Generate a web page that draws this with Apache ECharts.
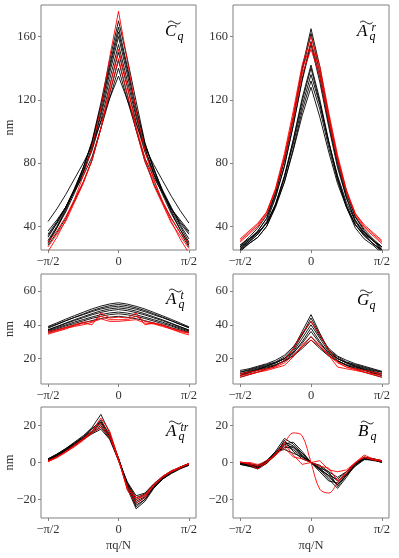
<!DOCTYPE html>
<html>
<head>
<meta charset="utf-8">
<script src="https://cdn.jsdelivr.net/npm/echarts@6/dist/echarts.min.js"></script>
<style>
  html, body { margin: 0; padding: 0; background: #fff; }
  #chart { width: 399px; height: 558px; }
</style>
</head>
<body>
<div id="chart"></div>
<script>
// q = -8..8, x = pi*q/N (N = 16), plotted in units of pi/2
const qIndex = [-8, -7, -6, -5, -4, -3, -2, -1, 0, 1, 2, 3, 4, 5, 6, 7, 8];
const xTickValues = [-1, 0, 1];
const xTickLabels = ['−π/2', '0', 'π/2'];

const yTicksTop = [40, 80, 120, 160];
const yTicksMid = [20, 40, 60];
const yTicksBot = [-20, 0, 20];

// C~_q
const cBlack = [
  [29, 39, 50, 63, 77, 94, 118, 145, 170, 146, 119, 93, 76, 62, 49, 38, 28],
  [31, 40, 51, 63, 77, 93, 116, 142, 166, 141, 115, 92, 77, 62, 50, 40, 30],
  [33, 42, 52, 64, 77, 93, 115, 140, 163, 139, 114, 92, 76, 63, 52, 41, 32],
  [30, 39, 49, 61, 74, 90, 112, 137, 160, 136, 111, 89, 73, 60, 48, 38, 29],
  [34, 42, 52, 63, 75, 90, 110, 133, 155, 132, 109, 89, 74, 62, 51, 42, 35],
  [35, 43, 52, 63, 74, 88, 107, 129, 150, 128, 106, 87, 73, 62, 51, 43, 36],
  [28, 36, 45, 56, 68, 82, 102, 124, 145, 123, 101, 81, 67, 55, 45, 36, 27],
  [37, 44, 52, 62, 72, 84, 102, 121, 140, 120, 101, 83, 71, 61, 51, 44, 37],
  [43, 51, 60, 70, 80, 91, 106, 121, 135, 120, 105, 90, 79, 69, 59, 50, 42]
];
const cRed = [
  [24, 33, 44, 57, 72, 90, 115, 147, 176, 145, 113, 88, 70, 55, 43, 32, 23],
  [27, 35, 43, 55, 67, 82, 102, 128, 152, 129, 103, 83, 66, 54, 42, 34, 26],
  [30, 37, 46, 57, 68, 82, 102, 125, 146, 124, 101, 81, 69, 56, 45, 36, 29]
];

// A~^r_q
const arBlack = [
  [26, 31, 37, 45, 61, 82, 109, 140, 165, 141, 110, 83, 62, 46, 37, 31, 25],
  [28, 33, 39, 47, 61, 82, 108, 138, 162, 137, 107, 81, 60, 46, 38, 32, 27],
  [25, 30, 35, 43, 58, 78, 104, 133, 157, 134, 105, 79, 58, 43, 35, 29, 24],
  [27, 32, 37, 45, 59, 78, 104, 132, 155, 131, 103, 77, 58, 44, 36, 31, 26],
  [24, 29, 33, 40, 53, 71, 95, 121, 142, 120, 94, 70, 52, 39, 32, 28, 23],
  [26, 30, 35, 42, 54, 72, 94, 119, 140, 118, 93, 71, 53, 41, 34, 29, 25],
  [27, 31, 36, 42, 54, 71, 92, 116, 136, 117, 93, 72, 55, 43, 36, 31, 27],
  [25, 29, 33, 40, 52, 68, 89, 113, 132, 114, 90, 69, 53, 41, 34, 29, 25],
  [28, 32, 36, 42, 53, 68, 88, 110, 128, 109, 87, 67, 52, 41, 35, 31, 27]
];
const arRed = [
  [31, 36, 41, 49, 64, 86, 113, 142, 160, 141, 112, 85, 63, 48, 40, 35, 30],
  [30, 35, 40, 48, 63, 84, 110, 139, 156, 138, 109, 83, 62, 47, 39, 34, 29],
  [32, 37, 42, 49, 63, 83, 108, 136, 152, 135, 107, 82, 62, 48, 41, 36, 31]
];

// A~^t_q
const atBlack = [
  [39, 41.1, 43.3, 45.4, 47.4, 49.4, 51, 52.3, 53, 52.2, 50.9, 49.3, 47.3, 45.3, 43.2, 41, 38.8],
  [38, 40.1, 42.3, 44.4, 46.4, 48.4, 50, 51.3, 52, 51.3, 50, 48.4, 46.5, 44.5, 42.4, 40.2, 38.2],
  [38.5, 40.4, 42.4, 44.3, 46, 47.8, 49.3, 50.4, 51, 50.3, 49.2, 47.7, 45.9, 44.2, 42.3, 40.3, 38.4],
  [37, 39, 41, 43, 44.8, 46.6, 48.2, 49.4, 50, 49.3, 48.1, 46.5, 44.7, 42.9, 40.9, 38.9, 36.8],
  [37, 38.8, 40.7, 42.5, 44.2, 45.9, 47.3, 48.4, 49, 48.3, 47.2, 45.8, 44.1, 42.4, 40.6, 38.7, 36.9],
  [36.5, 38.2, 39.9, 41.6, 43.1, 44.6, 46, 47, 47.5, 46.9, 45.9, 44.5, 43, 41.5, 39.8, 38.1, 36.3],
  [36, 37.6, 39.3, 40.8, 42.3, 43.8, 45, 46, 46.5, 45.9, 44.9, 43.7, 42.2, 40.7, 39.2, 37.5, 35.8],
  [35.5, 36.9, 38.4, 39.9, 41.2, 42.5, 43.7, 44.5, 45, 44.4, 43.6, 42.4, 41.1, 39.8, 38.3, 36.8, 35.4]
];
const atRed = [
  [34.5, 36, 37.5, 39.5, 41, 40, 47, 44, 44.5, 44, 47, 40, 41, 39.5, 37.5, 35.5, 34],
  [36, 37, 38.5, 40, 41.5, 42, 45, 43, 43, 43, 45, 42, 41, 40, 38, 36.5, 35.5],
  [35, 36.5, 38, 39, 40, 41.5, 43.5, 42, 42, 42.5, 43, 41, 40.5, 39, 37.5, 36, 35]
];

// G~_q
const gBlack = [
  [12, 13.5, 15, 16.5, 18, 21, 26, 36, 46, 35, 25, 21, 18, 16.5, 15, 13.5, 12],
  [10, 12, 13.5, 15.5, 17.5, 20, 25, 34, 44, 34, 25, 20, 17.5, 15.5, 13.5, 11.5, 10],
  [13, 14, 15.5, 17, 19, 22, 27, 34, 42, 33, 26, 21.5, 19, 17, 15.5, 14, 12.5],
  [11, 12.5, 14, 15.5, 17.5, 20, 24, 32, 40, 32, 24, 20, 17.5, 15.5, 14, 12.5, 11],
  [9, 10.5, 12, 14, 16, 19, 23, 30, 38, 30, 23, 19, 16, 14, 12, 10.5, 9],
  [12, 13, 14.5, 16, 17.5, 20, 23.5, 29, 36, 29, 23, 20, 17.5, 16, 14.5, 13, 12],
  [10, 11.5, 13, 14.5, 16, 18.5, 22, 27, 33, 27, 22, 18.5, 16, 14.5, 13, 11.5, 10],
  [11, 12, 13.5, 15, 16.5, 18.5, 21.5, 26, 31, 26, 21.5, 18.5, 16.5, 15, 13.5, 12, 11]
];
const gRed = [
  [10, 11, 12, 13.5, 15.5, 19, 26, 35, 42, 34, 25, 18, 15, 13.5, 12, 11, 10],
  [9, 10.5, 12, 13, 14.5, 16, 21, 28, 33, 28, 22, 15, 14, 13, 12, 10.5, 9],
  [11, 12, 13, 14, 15, 17.5, 22, 27, 31, 27, 22, 17.5, 15, 14, 13, 12, 11]
];

// A~^tr_q
const atrBlack = [
  [1.5, 4, 7, 10.5, 14, 19, 26, 16, 2, -14, -25, -21, -14, -9, -6, -3.5, -1.5],
  [1, 3.5, 6.5, 10, 13.5, 18, 23, 15, 2, -13, -23, -20, -13.5, -9, -5.5, -3, -1],
  [2, 4.5, 7.5, 11, 14.5, 18.5, 22, 14, 1, -12, -22, -19, -13, -8.5, -5.5, -3, -1],
  [1, 3.5, 6.5, 9.5, 13, 17, 21, 14, 2, -12, -21, -18.5, -13, -8.5, -5, -2.5, -0.5],
  [0.5, 3, 6, 9, 12.5, 16.5, 20, 13.5, 1.5, -11, -20, -17.5, -12, -8, -5, -2.5, -0.5],
  [1.5, 4, 7, 10, 13, 16, 19, 13, 2, -11, -19, -17, -12, -8, -5, -3, -1],
  [1, 3.5, 6.5, 9.5, 12.5, 15.5, 18, 12.5, 1, -10.5, -18, -16.5, -11.5, -7.5, -4.5, -2.5, -1],
  [2, 4.5, 7.5, 10.5, 13.5, 17, 22, 14.5, 2.5, -12.5, -24, -20, -13.5, -9, -5.5, -3, -1.5]
];
const atrRed = [
  [0.5, 2.5, 5.5, 9, 12.5, 17, 24, 17, 2, -15, -22, -19, -12.5, -8, -5, -3, -0.5],
  [0.5, 3, 6, 9.5, 13, 17, 21, 15, 1.5, -14, -20, -18, -12, -7.5, -4.5, -2.5, -0.5],
  [1, 3, 5.5, 8.5, 12, 16, 19, 14, 1, -13, -19, -17.5, -12, -8, -5, -2.5, -1]
];

// B~_q
const bBlack = [
  [0, -1, -2.5, 0.5, 6, 13, 10, 5, 0, -4, -9, -14, -8, -1, 2.5, 2, 0.5],
  [-0.5, -1.5, -2, 1, 5.5, 11, 9, 4, 0, -3, -8, -12, -7, -1, 2, 1.5, 0.5],
  [0, -1, -3, 0, 5, 10, 11, 6, 0, -5, -10, -11, -6, -0.5, 3, 2, 1],
  [-1, -2, -2.5, -0.5, 4.5, 9, 7, 3, 0, -2, -6, -10, -6, -1.5, 2, 1.5, 0],
  [0, -0.5, -1.5, 1, 5, 8, 8.5, 5, 0, -4, -7, -9, -5, 0, 2.5, 1.5, 0.5],
  [-0.5, -1.5, -3, 0, 4, 12, 6, 2, 0, -1.5, -5, -13, -7, -2, 1.5, 1.5, 0],
  [0, -1, -2, 0.5, 6, 7, 5, 3, 0, -3, -5, -8, -5, -1, 2, 2, 1],
  [-1, -2, -3.5, -0.5, 4, 10, 8, 3.5, 0, -3.5, -7, -12, -6.5, -1.5, 2, 1, 0.5]
];
const bRedSmooth = [0, 0, -1, 1, 4.5, 10.5, 16, 14.5, 0, -14.5, -16.5, -11, -5, -0.5, 2.5, 1.5, 0.5];
const bRed = [
  [0.5, -1, -3.5, 0, 5, 10, 4, -1, 0, 1, -4, -5, -4, 0, 4, 2, 1],
  [0, -0.5, -2, 0, 4, 8, 3, 2, 0, -2, -3, -10, -6, 0, 3, 1.5, 1]
];

const FONT = '"Liberation Serif", "DejaVu Serif", serif';
const FRAME = '#808080';

const panels = [
  { left: 41, top: 5, width: 155, height: 245, yMin: 25, yMax: 180, yTicks: yTicksTop,
    black: cBlack, red: cRed, nm: true, xName: false,
    title: { x: 165, base: 37, letter: 'C', sub: 'q' } },
  { left: 233, top: 5, width: 156, height: 245, yMin: 25, yMax: 180, yTicks: yTicksTop,
    black: arBlack, red: arRed, nm: false, xName: false,
    title: { x: 357, base: 37, letter: 'A', sup: 'r', sub: 'q' } },
  { left: 41, top: 274, width: 155, height: 110, yMin: 5, yMax: 70, yTicks: yTicksMid,
    black: atBlack, red: atRed, nm: true, xName: false,
    title: { x: 166, base: 305, letter: 'A', sup: 't', sub: 'q' } },
  { left: 233, top: 274, width: 156, height: 110, yMin: 5, yMax: 70, yTicks: yTicksMid,
    black: gBlack, red: gRed, nm: false, xName: false,
    title: { x: 357, base: 306, letter: 'G', sub: 'q' } },
  { left: 41, top: 407, width: 155, height: 111, yMin: -30, yMax: 30, yTicks: yTicksBot,
    black: atrBlack, red: atrRed, nm: true, xName: true,
    title: { x: 166, base: 437, letter: 'A', sup: 'tr', sub: 'q' } },
  { left: 233, top: 407, width: 156, height: 111, yMin: -30, yMax: 30, yTicks: yTicksBot,
    black: bBlack, red: bRed, smoothRed: bRedSmooth, nm: false, xName: true,
    title: { x: 358, base: 437, letter: 'B', sub: 'q' } }
];

function fmtNum(v) {
  return v < 0 ? '−' + (-v) : String(v);
}

function toPoints(arr) {
  return qIndex.map((q, j) => [q / 8, arr[j]]);
}

const grids = [], xAxes = [], yAxes = [], series = [], graphics = [];

panels.forEach((p, i) => {
  grids.push({
    left: p.left, top: p.top, width: p.width, height: p.height,
    show: true, borderColor: FRAME, borderWidth: 1, backgroundColor: 'transparent'
  });
  xAxes.push({
    type: 'value', gridIndex: i, min: -1.1, max: 1.1, position: 'bottom',
    axisLine: { show: false, onZero: false },
    splitLine: { show: false },
    axisTick: { show: true, customValues: xTickValues, length: 3, lineStyle: { color: FRAME } },
    axisLabel: {
      customValues: xTickValues, margin: 5, color: '#333', fontFamily: FONT, fontSize: 12.5,
      formatter: v => xTickLabels[xTickValues.indexOf(Math.round(v))]
    },
    name: p.xName ? 'πq/N' : '', nameLocation: 'middle', nameGap: 21, nameMoveOverlap: false,
    nameTextStyle: { color: '#333', fontFamily: FONT, fontSize: 12.5 }
  });
  yAxes.push({
    type: 'value', gridIndex: i, min: p.yMin, max: p.yMax, position: 'left',
    axisLine: { show: false, onZero: false },
    splitLine: { show: false },
    axisTick: { show: true, customValues: p.yTicks, length: 3, lineStyle: { color: FRAME } },
    axisLabel: {
      customValues: p.yTicks, margin: 5, color: '#333', fontFamily: FONT, fontSize: 12.5,
      formatter: fmtNum
    },
    name: p.nm ? 'nm' : '', nameLocation: 'middle', nameGap: 25, nameRotate: 90,
    nameMoveOverlap: false,
    nameTextStyle: { color: '#333', fontFamily: FONT, fontSize: 12.5 }
  });

  const line = (arr, color, smooth) => ({
    type: 'line', xAxisIndex: i, yAxisIndex: i, data: toPoints(arr),
    showSymbol: false, symbol: 'none', silent: true,
    smooth: smooth || false,
    lineStyle: { color: color, width: 0.9 }
  });
  p.black.forEach(arr => series.push(line(arr, '#000')));
  p.red.forEach(arr => series.push(line(arr, '#ff0000')));
  if (p.smoothRed) series.push(line(p.smoothRed, '#ff0000', 0.35));

  // panel label, e.g. C~_q
  const t = p.title;
  graphics.push({
    type: 'text', x: t.x, y: t.base + 3,
    style: { text: t.letter, font: 'italic 17px ' + FONT, fill: '#000', align: 'left', verticalAlign: 'bottom' }
  });
  graphics.push({
    type: 'bezierCurve',
    shape: { x1: t.x + 3, y1: t.base - 14.5, cpx1: t.x + 7.5, cpy1: t.base - 19.5,
             cpx2: t.x + 11, cpy2: t.base - 9.5, x2: t.x + 15.5, y2: t.base - 14.5 },
    style: { stroke: '#000', lineWidth: 0.9, fill: null }
  });
  if (t.sup) {
    graphics.push({
      type: 'text', x: t.x + 14.5, y: t.base - 3,
      style: { text: t.sup, font: 'italic 11.5px ' + FONT, fill: '#000', align: 'left', verticalAlign: 'bottom' }
    });
  }
  graphics.push({
    type: 'text', x: t.x + 12.5, y: t.base + 6,
    style: { text: t.sub, font: 'italic 12px ' + FONT, fill: '#000', align: 'left', verticalAlign: 'bottom' }
  });
});

const chart = echarts.init(document.getElementById('chart'), null, { renderer: 'canvas' });
chart.setOption({
  animation: false,
  backgroundColor: '#fff',
  grid: grids,
  xAxis: xAxes,
  yAxis: yAxes,
  series: series,
  graphic: graphics
});
</script>
</body>
</html>
